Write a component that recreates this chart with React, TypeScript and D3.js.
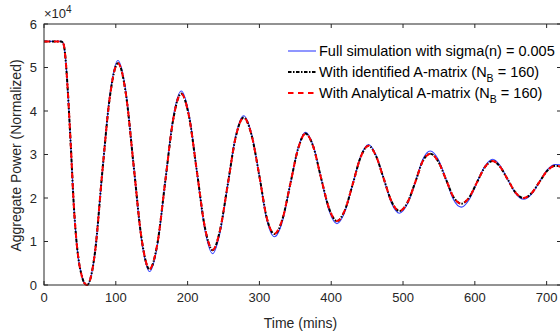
import React from "react";
import * as d3 from "d3";

const times = [0, 24, 27, 30, 33, 37, 42, 45, 48, 52, 56, 60,
  71, 81, 92, 103, 114, 125, 136, 147, 158, 169, 180, 191, 202, 213, 224, 235,
  245, 256, 267, 278, 289, 300, 310, 321, 332, 343, 354, 364, 375, 386, 397, 408,
  419, 430, 441, 452, 462, 473, 484, 495, 506, 517, 527, 538, 549, 560, 570, 581,
  592, 603, 614, 625, 635, 646, 657, 668, 679, 690, 701, 712, 720];

const fullSim = [5.6, 5.6, 5.55, 5.2, 4.5, 3.3, 1.7, 1.05, 0.6, 0.25, 0.05, 0.0,
  0.75, 2.56, 4.40, 5.16, 4.45, 2.72, 1.02, 0.31, 0.92, 2.4, 3.86, 4.46,
  3.92, 2.6, 1.27, 0.72, 1.19, 2.32, 3.43, 3.89, 3.48, 2.5, 1.52, 1.11,
  1.46, 2.32, 3.16, 3.51, 3.20, 2.45, 1.71, 1.41, 1.68, 2.32, 2.96, 3.23,
  3.0, 2.45, 1.88, 1.65, 1.86, 2.36, 2.87, 3.08, 2.89, 2.42, 1.97, 1.79,
  1.96, 2.36, 2.73, 2.89, 2.75, 2.42, 2.10, 1.97, 2.09, 2.37, 2.65, 2.77, 2.76];

const identified = [5.6, 5.6, 5.55, 5.2, 4.5, 3.3, 1.7, 1.05, 0.6, 0.25, 0.05, 0.0,
  0.75, 2.56, 4.36, 5.1, 4.40, 2.72, 1.05, 0.36, 0.96, 2.4, 3.81, 4.4,
  3.87, 2.6, 1.33, 0.8, 1.25, 2.32, 3.40, 3.85, 3.45, 2.5, 1.56, 1.17,
  1.51, 2.32, 3.14, 3.48, 3.18, 2.45, 1.76, 1.47, 1.72, 2.32, 2.94, 3.2,
  2.98, 2.45, 1.92, 1.7, 1.89, 2.36, 2.83, 3.02, 2.84, 2.42, 2.03, 1.87,
  2.01, 2.36, 2.71, 2.85, 2.72, 2.42, 2.12, 2.0, 2.11, 2.37, 2.63, 2.74, 2.72];

const analytical = [5.6, 5.6, 5.55, 5.2, 4.5, 3.3, 1.7, 1.05, 0.6, 0.25, 0.05, 0.0,
  0.75, 2.56, 4.36, 5.1, 4.40, 2.72, 1.05, 0.37, 0.96, 2.4, 3.81, 4.4,
  3.87, 2.6, 1.33, 0.81, 1.25, 2.32, 3.40, 3.85, 3.45, 2.5, 1.56, 1.18,
  1.51, 2.32, 3.14, 3.48, 3.18, 2.45, 1.76, 1.47, 1.72, 2.32, 2.94, 3.2,
  2.98, 2.45, 1.92, 1.7, 1.89, 2.36, 2.83, 3.02, 2.84, 2.42, 2.03, 1.87,
  2.01, 2.36, 2.71, 2.85, 2.72, 2.42, 2.12, 2.0, 2.11, 2.37, 2.63, 2.74, 2.72];

const xTicks = [0, 100, 200, 300, 400, 500, 600, 700];
const yTicks = [0, 10000, 20000, 30000, 40000, 50000, 60000];

const W = 560, H = 334;
const L = 44, R = 561, T = 24, B = 285;
const FONT = "'Liberation Sans', Arial, Helvetica, sans-serif";
const AX = "#262626";
const BLUE = "#3341ff";

export default function App() {
  const x = d3.scaleLinear().domain([0, 720]).range([L, R]);
  const y = d3.scaleLinear().domain([0, 60000]).range([B, T]);
  const mk = (vals: number[]) =>
    d3.line<number>()
      .x((_, i) => x(times[i]))
      .y((v) => y(v * 10000))
      .curve(d3.curveMonotoneX)(vals) || "";

  const tl = 4;
  return (
    <svg width={W} height={H} style={{ position: "absolute", left: 0, top: 0, background: "#fff" }} fontFamily={FONT}>
      <defs>
        <clipPath id="plot">
          <rect x={L} y={T - 2} width={R - L} height={B - T + 4} />
        </clipPath>
      </defs>
      <rect x={0} y={0} width={W} height={H} fill="#fff" />
      <g clipPath="url(#plot)" fill="none">
        <path d={mk(fullSim)} stroke={BLUE} strokeWidth={1.1} />
        <path d={mk(identified)} stroke="#000" strokeWidth={2} strokeDasharray="3.5,1.5,1.5,1.5" />
        <path d={mk(analytical)} stroke="#ff0000" strokeWidth={2} strokeDasharray="5.5,4.5" />
      </g>
      <rect x={L} y={T} width={R - L} height={B - T} fill="none" stroke={AX} strokeWidth={1} />
      {xTicks.map((t) => (
        <g key={"x" + t}>
          <line x1={x(t)} x2={x(t)} y1={B} y2={B - tl} stroke={AX} />
          <line x1={x(t)} x2={x(t)} y1={T} y2={T + tl} stroke={AX} />
          <text x={x(t)} y={B + 17} textAnchor="middle" fontSize={13} fill={AX}>{t}</text>
        </g>
      ))}
      {yTicks.map((t) => (
        <g key={"y" + t}>
          <line x1={L} x2={L + tl} y1={y(t)} y2={y(t)} stroke={AX} />
          <line x1={R} x2={R - tl} y1={y(t)} y2={y(t)} stroke={AX} />
          <text x={L - 7} y={y(t) + 4.5} textAnchor="end" fontSize={13} fill={AX}>{t / 10000}</text>
        </g>
      ))}
      <text x={L} y={T - 6} fontSize={13} fill={AX}>
        ×10<tspan dy={-5} fontSize={10}>4</tspan>
      </text>
      <text x={(L + R) / 2 - 2} y={328} textAnchor="middle" fontSize={14} fill={AX}>Time (mins)</text>
      <text transform={`translate(21,${(T + B) / 2 + 1}) rotate(-90)`} textAnchor="middle" fontSize={14} fill={AX}>Aggregate Power (Normalized)</text>
      <g fontSize={14.5} fill="#000">
        <line x1={288} x2={316} y1={51} y2={51} stroke={BLUE} strokeWidth={1.1} />
        <text x={319} y={56}>Full simulation with sigma(n) = 0.005</text>
        <line x1={288} x2={316} y1={72} y2={72} stroke="#000" strokeWidth={2} strokeDasharray="3.5,1.5,1.5,1.5" />
        <text x={319} y={77}>With identified A-matrix (N<tspan dy={5} fontSize={10.5}>B</tspan><tspan dy={-5}> = 160)</tspan></text>
        <line x1={288} x2={316} y1={93} y2={93} stroke="#ff0000" strokeWidth={2} strokeDasharray="5.5,4.5" />
        <text x={319} y={98}>With Analytical A-matrix (N<tspan dy={5} fontSize={10.5}>B</tspan><tspan dy={-5}> = 160)</tspan></text>
      </g>
    </svg>
  );
}
